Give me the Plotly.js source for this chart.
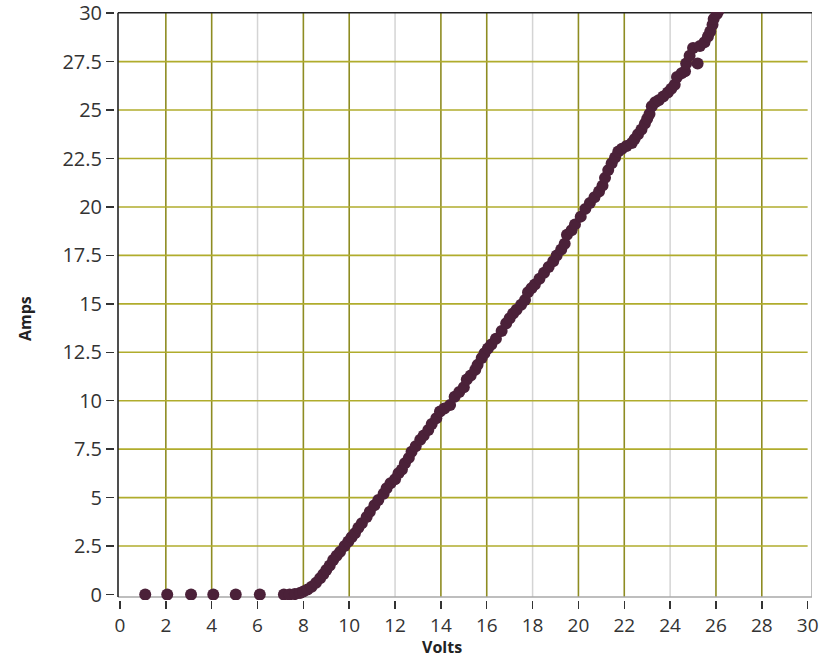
<!DOCTYPE html>
<html>
<head>
<meta charset="utf-8">
<script src="https://cdn.plot.ly/plotly-3.0.1.min.js"></script>
<style>html,body{margin:0;padding:0;background:#fff;}#chart{width:822px;height:660px;}</style>
</head>
<body>
<div id="chart"></div>
<script>
const volts = [1.1,2.06,3.1,4.07,5.05,6.1,7.15,7.4,7.63,7.85,8.0,8.18,8.36,8.55,8.73,8.87,9.0,9.15,9.3,9.45,9.6,9.8,9.96,10.1,10.25,10.4,10.55,10.76,10.9,11.1,11.27,11.5,11.63,11.8,12.0,12.15,12.3,12.43,12.6,12.72,12.9,13.1,13.25,13.45,13.6,13.8,13.96,14.15,14.4,14.6,14.8,15.0,15.13,15.3,15.5,15.6,15.78,15.9,16.05,16.2,16.4,16.65,16.85,17.0,17.15,17.3,17.5,17.67,17.8,17.95,18.1,18.3,18.5,18.7,18.9,19.05,19.25,19.4,19.5,19.7,19.85,20.1,20.3,20.5,20.7,20.9,21.05,21.16,21.3,21.45,21.6,21.74,21.9,22.1,22.33,22.45,22.6,22.75,22.9,23.0,23.1,23.2,23.35,23.5,23.7,23.9,24.05,24.2,24.3,24.5,24.65,24.7,24.85,25.0,25.2,25.3,25.5,25.65,25.75,25.85,25.9,26.03,26.1];
const amps = [0,0,0,0,0,0,0,0,0.02,0.08,0.15,0.26,0.4,0.6,0.84,1.05,1.26,1.5,1.78,2.0,2.2,2.5,2.73,2.95,3.16,3.45,3.68,4.0,4.27,4.6,4.88,5.2,5.48,5.74,5.95,6.26,6.45,6.77,7.05,7.37,7.65,7.98,8.2,8.49,8.8,9.1,9.44,9.6,9.78,10.2,10.45,10.7,11.1,11.3,11.6,11.85,12.2,12.45,12.7,12.9,13.2,13.6,14.0,14.26,14.5,14.7,14.95,15.2,15.6,15.8,16.0,16.3,16.6,16.9,17.2,17.5,17.8,18.1,18.56,18.8,19.1,19.5,19.9,20.2,20.5,20.8,21.1,21.5,21.9,22.26,22.55,22.86,23.0,23.15,23.3,23.5,23.75,24.0,24.3,24.55,24.8,25.2,25.4,25.5,25.7,25.9,26.1,26.3,26.7,26.9,27.0,27.4,27.8,28.2,27.4,28.3,28.5,28.8,29.05,29.4,29.7,29.95,30.1];

const xTicks = [0,2,4,6,8,10,12,14,16,18,20,22,24,26,28,30];
const yTicks = [0,2.5,5,7.5,10,12.5,15,17.5,20,22.5,25,27.5,30];
const yTickText = ["0","2.5","5","7.5","10","12.5","15","17.5","20","22.5","25","27.5","30"];
const hGrid = [2.5,5,7.5,10,12.5,15,17.5,20,22.5,25,27.5];
const vGridOlive = [2,4,8,10,14,16,20,22,26,28];
const vGridGray = [6,12,18,24];

const X0 = -0.218, X1 = 30.19, Y0 = -0.284, Y1 = 30.06;
const FL = -0.087, FB = -0.13, FT = 30.02;

const shapes = [];
vGridGray.forEach(v => shapes.push({type:'line', layer:'below', xref:'x', yref:'y', x0:v, x1:v, y0:FB, y1:FT, line:{color:'#d4d4d4', width:1.5}}));
vGridOlive.forEach(v => shapes.push({type:'line', layer:'below', xref:'x', yref:'y', x0:v, x1:v, y0:FB, y1:FT, line:{color:'#8e8c22', width:1.6}}));
hGrid.forEach(v => shapes.push({type:'line', layer:'below', xref:'x', yref:'y', x0:FL, x1:30, y0:v, y1:v, line:{color:'#b0ac2c', width:1.6}}));
shapes.push({type:'line', layer:'below', xref:'x', yref:'y', x0:X1, x1:X1, y0:FB, y1:FT, line:{color:'#a8a8a8', width:1.5}});
shapes.push({type:'line', layer:'below', xref:'x', yref:'y', x0:FL, x1:X1, y0:FB, y1:FB, line:{color:'#a8a8a8', width:1.5}});
shapes.push({type:'line', layer:'below', xref:'x', yref:'y', x0:FL, x1:FL, y0:FB, y1:FT, line:{color:'#222222', width:1.6}});
shapes.push({type:'line', layer:'below', xref:'x', yref:'y', x0:FL, x1:X1, y0:FT, y1:FT, line:{color:'#222222', width:1.6}});

const trace = {
  x: volts, y: amps, type:'scatter', mode:'markers',
  marker:{color:'#4b2139', size:12, line:{width:0}},
  hoverinfo:'x+y'
};

const layout = {
  width:822, height:660,
  margin:{l:115, r:10, t:12, b:60, pad:0},
  paper_bgcolor:'#ffffff', plot_bgcolor:'#ffffff',
  showlegend:false,
  xaxis:{range:[X0,X1], tickmode:'array', tickvals:xTicks, ticktext:xTicks.map(String),
         showgrid:false, zeroline:false, showline:false, ticks:'outside', ticklen:8, tickwidth:1.5, tickcolor:'#333333',
         tickfont:{family:'Open Sans', size:19, color:'#333333'}, ticklabeloverflow:'allow', fixedrange:true},
  yaxis:{range:[Y0,Y1], tickmode:'array', tickvals:yTicks, ticktext:yTickText,
         showgrid:false, zeroline:false, showline:false, ticks:'outside', ticklen:8, tickwidth:1.5, tickcolor:'#333333',
         tickfont:{family:'Open Sans', size:20, color:'#333333'}, ticklabeloverflow:'allow', fixedrange:true},
  shapes: shapes,
  annotations:[
    {text:'<b>Volts</b>', xref:'paper', yref:'paper', x:(441.5-115)/697, y:(600-647)/588, xanchor:'center', yanchor:'middle', showarrow:false,
     font:{family:'Open Sans', size:16, color:'#222222'}},
    {text:'<b>Amps</b>', xref:'paper', yref:'paper', x:(25-115)/697, y:(600-319)/588, xanchor:'center', yanchor:'middle', textangle:-90, showarrow:false,
     font:{family:'Open Sans', size:16, color:'#222222'}}
  ]
};
Plotly.newPlot('chart', [trace], layout, {displayModeBar:false, staticPlot:true});
</script>
</body>
</html>
